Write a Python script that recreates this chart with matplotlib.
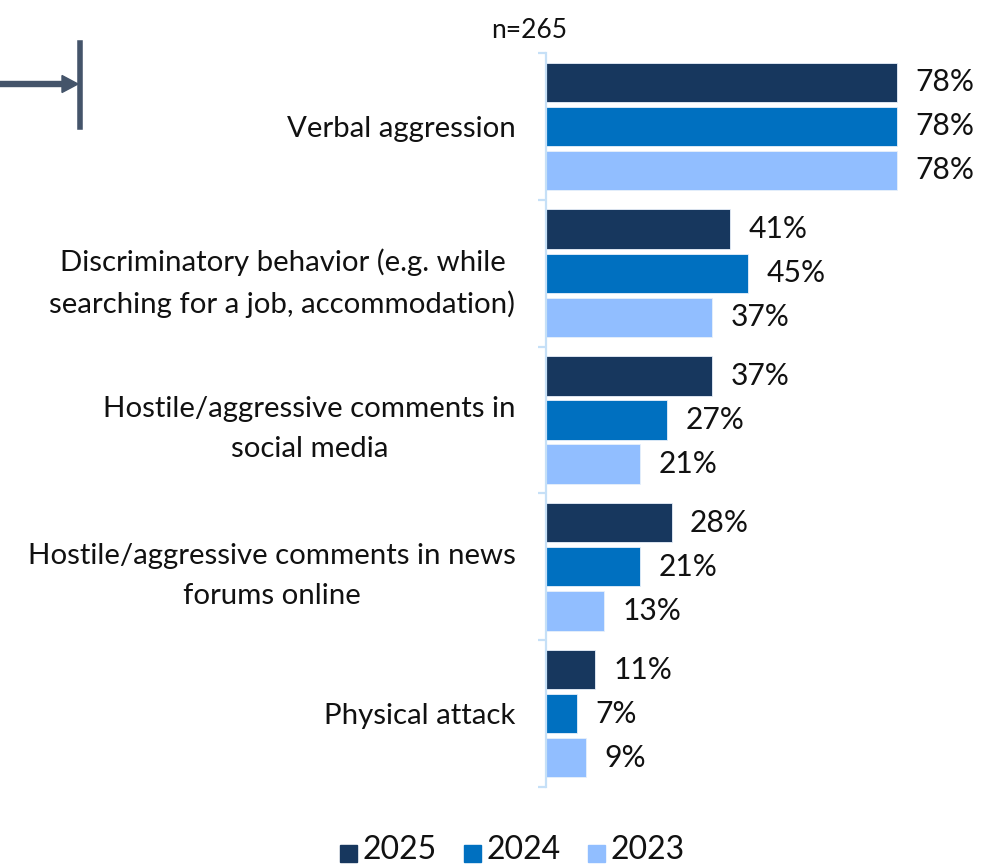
import matplotlib
matplotlib.use("Agg")
import matplotlib.pyplot as plt
from matplotlib.lines import Line2D
from matplotlib.patches import FancyArrow, Rectangle
import numpy as np

plt.rcParams['font.family'] = ['Lato', 'DejaVu Sans']

categories = [
    "Verbal aggression",
    "Discriminatory behavior (e.g. while\nsearching for a job, accommodation)",
    "Hostile/aggressive comments in\nsocial media",
    "Hostile/aggressive comments in news\nforums online",
    "Physical attack",
]
years = ["2025", "2024", "2023"]
values_2025 = [78, 41, 37, 28, 11]
values_2024 = [78, 45, 27, 21, 7]
values_2023 = [78, 37, 21, 13, 9]
sample_note = "n=265"

series = [values_2025, values_2024, values_2023]
colors = ["#17375E", "#0070C0", "#91BEFF"]
axis_color = "#C6E0F7"

W, H = 1003, 866
fig = plt.figure(figsize=(W / 100, H / 100), dpi=100)
ax = fig.add_axes([546 / W, 79 / H, 450 / W, 734 / H])

y = np.arange(len(categories))
offsets = [-0.3, 0.0, 0.3]
bar_h = 0.268
for vals, off, col in zip(series, offsets, colors):
    bars = ax.barh(y + off, vals, height=bar_h, color=col,
                   edgecolor="#E8F0FA", linewidth=0.6)
    for b, v in zip(bars, vals):
        ax.annotate(f"{v}%", (b.get_width(), b.get_y() + b.get_height() / 2),
                    xytext=(13, 0), textcoords="offset points",
                    ha="left", va="center", fontsize=21.6, color="#111111")

ax.set_xlim(0, 100)
ax.set_ylim(len(categories) - 0.5, -0.5)
for s in ["top", "right", "bottom"]:
    ax.spines[s].set_visible(False)
ax.spines["left"].set_color(axis_color)
ax.spines["left"].set_linewidth(1.6)
ax.set_xticks([])
ax.set_yticks(y)
ax.set_yticklabels(categories, fontsize=21.2, color="#111111",
                   multialignment="center", linespacing=1.66)
ax.tick_params(axis="y", which="major", length=0, pad=22)
ax.set_yticks(np.arange(-0.5, len(categories)), minor=True)
ax.tick_params(axis="y", which="minor", length=6, width=1.6, color=axis_color)

fig.text(529 / W, 1 - 31 / H, sample_note, ha="center", va="center",
         fontsize=19, color="#111111")

# Marker on the left edge: arrow pointing into a vertical stop bar
arrow_color = "#44546A"
fig.add_artist(FancyArrow(0, 1 - 84 / H, 78 / W, 0, width=5 / H,
                          head_width=17 / H, head_length=16 / W,
                          length_includes_head=True, color=arrow_color,
                          transform=fig.transFigure))
fig.add_artist(Line2D([80 / W, 80 / W], [1 - 43 / H, 1 - 127 / H],
                      color=arrow_color, linewidth=4,
                      transform=fig.transFigure))

# Legend
x0 = 340
for lab, col in zip(years, colors):
    fig.add_artist(Rectangle((x0 / W, 1 - 862 / H), 17 / W, 17 / H,
                             color=col, transform=fig.transFigure))
    fig.text((x0 + 23) / W, 1 - 850 / H, lab, ha="left", va="center",
             fontsize=23, color="#111111")
    x0 += 124

fig.savefig("out.png", dpi=100)
